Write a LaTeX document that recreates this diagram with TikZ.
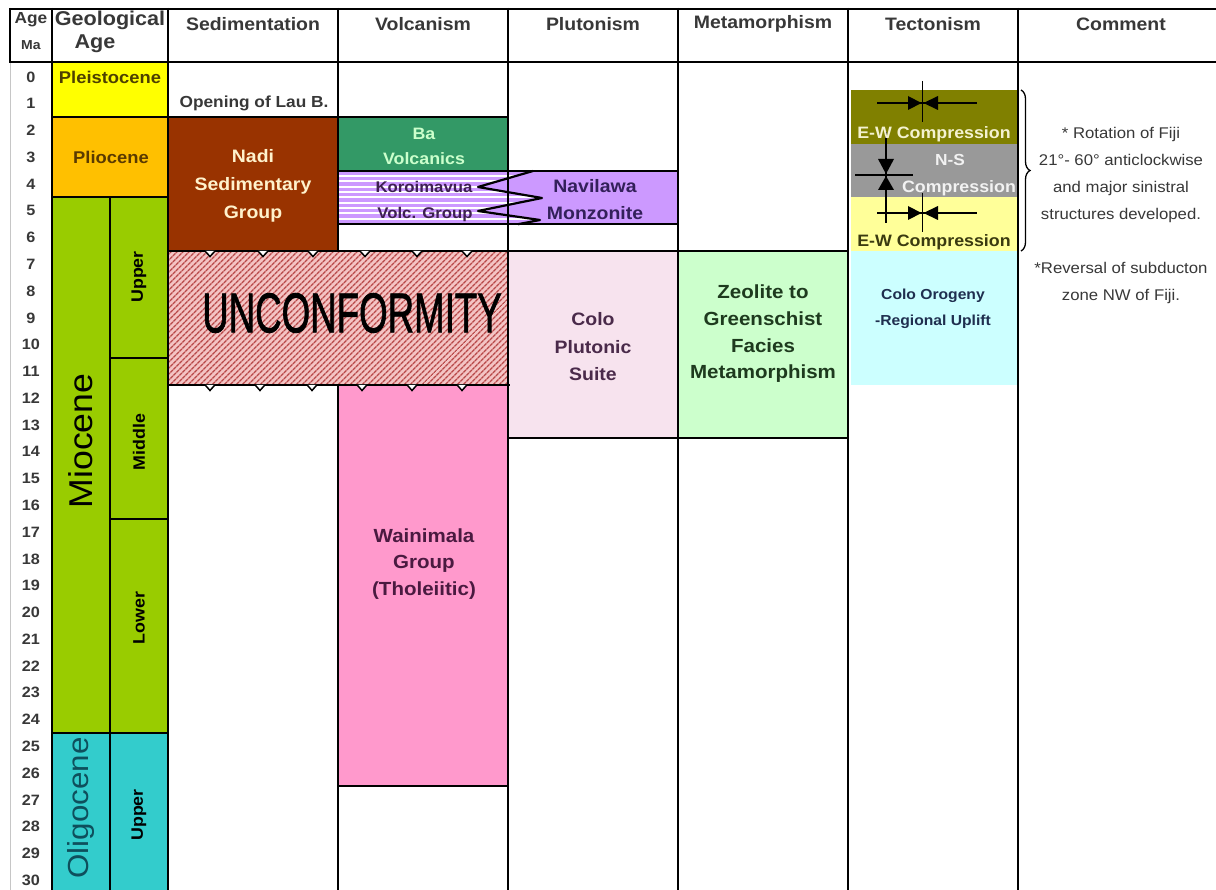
\documentclass[tikz,border=0pt]{standalone}
\usepackage{fontspec}
\usepackage{graphicx}
\setmainfont{Liberation Sans}[FakeStretch=1.08]
\newfontfamily\medsans{Liberation Sans}[FakeBold=1.6]
\usetikzlibrary{patterns.meta,decorations.pathreplacing}
\definecolor{pleist}{HTML}{FFFF00}
\definecolor{plio}{HTML}{FFC000}
\definecolor{mio}{HTML}{99CC00}
\definecolor{oligo}{HTML}{33CCCC}
\definecolor{nadi}{HTML}{993300}
\definecolor{ba}{HTML}{339966}
\definecolor{lav}{HTML}{CC99FF}
\definecolor{uncf}{HTML}{F4C4C4}
\definecolor{uncl}{HTML}{B84848}
\definecolor{colo}{HTML}{F7E3EE}
\definecolor{meta}{HTML}{CCFFCC}
\definecolor{waini}{HTML}{FF99CC}
\definecolor{olive}{HTML}{808000}
\definecolor{nsgrey}{HTML}{999999}
\definecolor{lyel}{HTML}{FFFF99}
\definecolor{lcyan}{HTML}{CCFFFF}
\definecolor{hdrtxt}{HTML}{383838}
\definecolor{cream}{HTML}{FFF2CC}
\definecolor{tpleis}{HTML}{4D4000}
\definecolor{tplio}{HTML}{5A3A00}
\definecolor{toligo}{HTML}{0E4F5C}
\definecolor{tba}{HTML}{CCFFCC}
\definecolor{tkoro}{HTML}{3D2050}
\definecolor{tnavi}{HTML}{33205A}
\definecolor{twaini}{HTML}{4A1A40}
\definecolor{tcolo}{HTML}{4A2A4A}
\definecolor{tzeo}{HTML}{1E3A1E}
\definecolor{tew}{HTML}{F4F2D0}
\definecolor{tns}{HTML}{F2F2F2}
\definecolor{tewb}{HTML}{3A3A10}
\definecolor{torog}{HTML}{1F2F4F}
\begin{document}
\begin{tikzpicture}[x=1pt,y=-1pt,
  grid/.style={line width=2pt,black},
  hdr/.style={inner sep=0pt,font=\fontsize{18}{22}\selectfont\bfseries,text=hdrtxt},
  agenum/.style={inner sep=0pt,font=\fontsize{15}{16}\selectfont\bfseries,text=hdrtxt},
  lbl/.style={inner sep=0pt,align=center,font=\fontsize{18}{28}\selectfont\bfseries},
  cmt/.style={inner sep=0pt,align=center,font=\fontsize{15.5}{26.7}\selectfont,text=hdrtxt},
  rot/.style={inner sep=0pt,rotate=90}]
\useasboundingbox (0,0) rectangle (1216,890);
\fill[white] (0,0) rectangle (1216,890);
% ---------- geological age fills
\fill[pleist] (52,62) rectangle (168,117.1);
\fill[plio] (52,117.1) rectangle (168,197.5);
\fill[mio] (52,197.5) rectangle (168,732.9);
\fill[oligo] (52,732.9) rectangle (168,890);
% ---------- sedimentation / volcanism / plutonism fills
\fill[nadi] (168,117.1) rectangle (338,251);
\fill[ba] (338,117.1) rectangle (508,170.7);
\begin{scope}
  \clip (338,170.7) -- (533,170.7) -- (478,187) -- (542,198) -- (478,211) -- (540,220) -- (520,224.2) -- (338,224.2) -- cycle;
  \foreach \yy in {173.5,178.8,...,226} \draw[lav,line width=3.3pt] (338,\yy) -- (560,\yy);
\end{scope}
\fill[lav] (533,170.7) -- (678,170.7) -- (678,224.2) -- (520,224.2) -- (540,220) -- (478,211) -- (542,198) -- (478,187) -- cycle;
\fill[uncf] (168,251) rectangle (508,384.8);
\fill[pattern={Lines[angle=45,distance=4pt,line width=1.5pt]},pattern color=uncl] (168,251) rectangle (508,384.8);
\fill[colo] (508,251) rectangle (678,438.4);
\fill[meta] (678,251) rectangle (848,438.4);
\fill[waini] (338,384.8) rectangle (508,786.4);
% ---------- tectonism fills
\fill[olive] (851,90.4) rectangle (1017,143.9);
\fill[nsgrey] (851,143.9) rectangle (1017,197.5);
\fill[lyel] (851,197.5) rectangle (1017,251);
\fill[lcyan] (851,251) rectangle (1017,384.8);
% ---------- grid
\draw[gray!45,line width=1pt] (10,62) -- (10,890);
\draw[grid] (10,9) -- (1216,9);
\draw[grid] (10,62) -- (1216,62);
\draw[grid] (10,8) -- (10,63);
\foreach \xx in {52,168,508,678,848,1018} \draw[grid] (\xx,8) -- (\xx,890);
\draw[grid] (338,8) -- (338,251);
\draw[grid] (338,384.8) -- (338,890);
\draw[grid] (110,197.5) -- (110,890);
\draw[grid] (52,117.1) -- (168,117.1);
\draw[grid] (52,197.5) -- (168,197.5);
\draw[grid] (110,358.1) -- (168,358.1);
\draw[grid] (110,518.7) -- (168,518.7);
\draw[grid] (52,732.9) -- (168,732.9);
\draw[grid] (168,117.1) -- (508,117.1);
\draw[grid] (338,170.7) -- (678,170.7);
\draw[grid] (338,224.2) -- (678,224.2);
\draw[grid] (168,251) -- (848,251);
\draw[grid] (168,384.8) -- (510,384.8);
\draw[grid] (508,438.4) -- (848,438.4);
\draw[grid] (338,786.4) -- (508,786.4);
% zigzag
\draw[line width=2.2pt,line join=round] (533,171) -- (478,187) -- (542,198) -- (478,211) -- (540,220) -- (518,224.2);
% unconformity notches
\foreach \xx in {210,263,313,365,417,467}
  \draw[line width=1.5pt,fill=white] (\xx-5,251) -- (\xx,256.5) -- (\xx+5,251);
\foreach \xx in {210,260,312,362,412,462}
  \draw[line width=1.5pt,fill=white] (\xx-5,384.8) -- (\xx,390.5) -- (\xx+5,384.8);
% ---------- compression symbols
\draw[line width=1.3pt] (877,103) -- (977,103);
\draw[line width=1.3pt] (922.5,81) -- (922.5,122);
\fill (908,96) -- (908,110) -- (921.5,103) -- cycle;
\fill (938,96) -- (938,110) -- (923.5,103) -- cycle;
\draw[line width=1.3pt] (877,213) -- (977,213);
\draw[line width=1.3pt] (922.5,193) -- (922.5,232);
\fill (908,206) -- (908,220) -- (921.5,213) -- cycle;
\fill (938,206) -- (938,220) -- (923.5,213) -- cycle;
\draw[line width=1.3pt] (886,132) -- (886,223);
\draw[line width=1.3pt] (855,175) -- (913,175);
\fill (878,159) -- (894,159) -- (886,174) -- cycle;
\fill (878,190) -- (894,190) -- (886,176) -- cycle;
% brace
\draw[decorate,decoration={brace,amplitude=9pt},line width=1.3pt] (1021,90) -- (1021,251);
% ---------- header text
\node[hdr,font=\fontsize{16}{17}\selectfont\bfseries] (hage) at (31,20) {Age};
\node[hdr,font=\fontsize{13}{14}\selectfont\bfseries] (hma) at (31,45) {Ma};
\node[hdr,font=\fontsize{20}{22}\selectfont\bfseries] (hgeo) at (110,20) {Geological};
\node[hdr,font=\fontsize{20}{22}\selectfont\bfseries] (hgeo2) at (95,44) {Age};
\node[hdr] (hsed) at (253,24) {Sedimentation};
\node[hdr] (hvol) at (423,24) {Volcanism};
\node[hdr] (hplu) at (593,24) {Plutonism};
\node[hdr] (hmet) at (763,24) {Metamorphism};
\node[hdr] (htec) at (933,24) {Tectonism};
\node[hdr] (hcom) at (1121,24) {Comment};
% ages
\foreach \n in {0,...,30} \node[agenum] (a\n) at (31,{77+26.77*\n}) {\n};
% geological ages
\node[lbl,font=\fontsize{17}{20}\selectfont\bfseries,text=tpleis] (pleis) at (110,77) {Pleistocene};
\node[lbl,font=\fontsize{17}{20}\selectfont\bfseries,text=tplio] (plioc) at (111,157) {Pliocene};
\node[rot,font=\fontsize{33}{34}\selectfont,text=black] (mioc) at (81,441) {Miocene};
\node[rot,font=\fontsize{29}{30}\selectfont,text=toligo] (oligc) at (81,808) {Oligocene};
\node[rot,font=\fontsize{16.5}{18}\selectfont\bfseries] (up1) at (139,277) {Upper};
\node[rot,font=\fontsize{16.5}{18}\selectfont\bfseries] (mid) at (139,442) {Middle};
\node[rot,font=\fontsize{16.5}{18}\selectfont\bfseries] (low) at (139,618) {Lower};
\node[rot,font=\fontsize{16.5}{18}\selectfont\bfseries] (up2) at (139,815) {Upper};
% sedimentation
\node[lbl,font=\fontsize{16}{20}\selectfont\bfseries,text=hdrtxt] (lau) at (254,103) {Opening of Lau B.};
\node[lbl,text=cream] (nadi) at (253,186) {Nadi\\Sedimentary\\Group};
\node[inner sep=0pt] (unc) at (352,313) {\scalebox{0.655}[1]{\medsans\fontsize{56}{56}\selectfont UNCONFORMITY}};
% volcanism
\node[lbl,font=\fontsize{16.5}{25}\selectfont\bfseries,text=tba] (ba) at (424,146) {Ba\\Volcanics};
\node[lbl,font=\fontsize{15.5}{18}\selectfont\bfseries,text=tkoro] (koro) at (424,187) {Koroimavua};
\node[lbl,font=\fontsize{15.5}{18}\selectfont\bfseries,text=tkoro] (volc) at (425,214) {Volc. Group};
\node[lbl,font=\fontsize{18}{27}\selectfont\bfseries,text=tnavi] (navi) at (595,200) {Navilawa\\Monzonite};
\node[lbl,font=\fontsize{19}{26.5}\selectfont\bfseries,text=twaini] (waini) at (424,564) {Wainimala\\Group\\(Tholeiitic)};
% plutonism / metamorphism
\node[lbl,font=\fontsize{18}{27.5}\selectfont\bfseries,text=tcolo] (colo) at (593,347) {Colo\\Plutonic\\Suite};
\node[lbl,font=\fontsize{19}{26.7}\selectfont\bfseries,text=tzeo] (zeo) at (763,334) {Zeolite to\\Greenschist\\Facies\\Metamorphism};
% tectonism
\node[lbl,font=\fontsize{16.5}{18}\selectfont\bfseries,text=tew] (ew1) at (934,134) {E-W Compression};
\node[lbl,font=\fontsize{16}{18}\selectfont\bfseries,text=tns] (ns1) at (950,160) {N-S};
\node[lbl,font=\fontsize{16.5}{18}\selectfont\bfseries,text=tns] (ns2) at (959,188) {Compression};
\node[lbl,font=\fontsize{16.5}{18}\selectfont\bfseries,text=tewb] (ew2) at (934,242) {E-W Compression};
\node[lbl,font=\fontsize{14.5}{26}\selectfont\bfseries,text=torog] (orog) at (933,309) {Colo Orogeny\\-Regional Uplift};
% comments
\node[cmt] (c1) at (1121,175) {* Rotation of Fiji\\21°- 60° anticlockwise\\and major sinistral\\structures developed.};
\node[cmt] (c2) at (1121,283) {*Reversal of subducton\\zone NW of Fiji.};
\end{tikzpicture}
\end{document}
